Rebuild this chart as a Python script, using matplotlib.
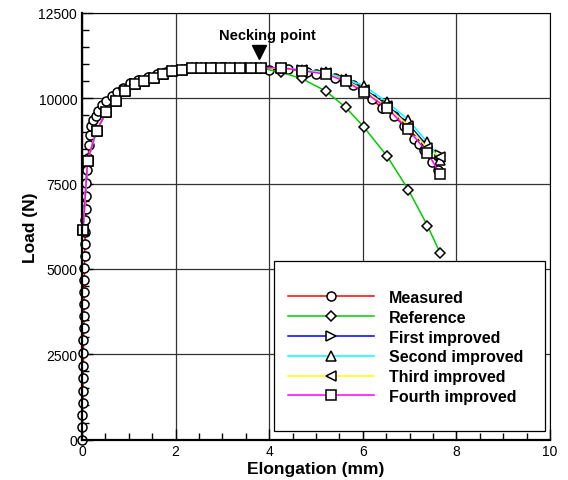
import numpy as np
import matplotlib
matplotlib.use("Agg")
import matplotlib.pyplot as plt
from matplotlib.patches import Rectangle
from matplotlib.ticker import MultipleLocator

plt.rcParams['font.family'] = ['Liberation Sans', 'DejaVu Sans']

#--- Measured curve (circles) ---
x_meas = [0.00, 0.01, 0.01, 0.02, 0.02, 0.02, 0.03, 0.03, 0.03, 0.04, 0.04, 0.04,
          0.05, 0.05, 0.05, 0.06, 0.06, 0.07, 0.07, 0.08, 0.08, 0.09, 0.11, 0.13,
          0.15, 0.17, 0.19, 0.24, 0.29, 0.35, 0.42, 0.52, 0.63, 0.74, 0.88, 1.02,
          1.20, 1.40, 1.60, 1.80, 2.00, 2.20, 2.40, 2.60, 2.80, 3.00, 3.20, 3.40,
          3.60, 3.80, 4.00, 4.40, 4.80, 5.00, 5.40, 5.80, 6.19, 6.40, 6.66, 6.87,
          7.09, 7.19, 7.30, 7.47, 7.60]
y_meas = [0, 380, 720, 1070, 1430, 1800, 2160, 2540, 2920, 3260, 3610, 3970,
          4320, 4670, 5020, 5370, 5720, 6070, 6420, 6770, 7140, 7520, 7900, 8250,
          8620, 8920, 9190, 9350, 9490, 9640, 9790, 9930, 10080, 10180, 10300, 10440,
          10530, 10620, 10700, 10770, 10820, 10860, 10890, 10900, 10910, 10910, 10900, 10900,
          10890, 10880, 10830, 10850, 10770, 10720, 10600, 10380, 9980, 9720, 9490, 9200,
          8810, 8650, 8480, 8130, 7900]

#--- FE curves, common elongation values ---
x_fe = [0.02, 0.12, 0.31, 0.52, 0.72, 0.91, 1.13, 1.33, 1.53, 1.73, 1.93, 2.13,
        2.34, 2.55, 2.76, 2.96, 3.16, 3.38, 3.61, 3.82, 4.25, 4.69, 5.21, 5.63,
        6.02, 6.52, 6.97, 7.38, 7.65]
y_common = [6140, 8175, 9055, 9590, 9930, 10200, 10420, 10500, 10600, 10700, 10800, 10830,
            10880, 10890, 10890, 10890, 10890, 10890, 10890, 10890]
y_ref = y_common + [10760, 10580, 10210, 9740, 9160, 8300, 7325, 6270, 5470]
y_first = y_common + [10880, 10830, 10740, 10540, 10280, 9800, 9250, 8600, 8330]
y_second = y_common + [10890, 10840, 10760, 10570, 10370, 9885, 9370, 8710, 8200]
y_third = y_common + [10880, 10820, 10730, 10520, 10250, 9760, 9200, 8530, 8270]
y_fourth = y_common + [10900, 10810, 10710, 10500, 10190, 9710, 9090, 8410, 7780]

#--- Figure ---
fig = plt.figure(figsize=(5.68, 4.81), dpi=100)
ax = fig.add_axes([0.1444, 0.084, 0.824, 0.887])

mk = dict(markerfacecolor='white', markeredgecolor='black', markeredgewidth=1.1, lw=1.1,
          clip_on=False)
ax.plot(x_meas, y_meas, color='red', marker='o', ms=6.5, label='Measured', zorder=3, **mk)
ax.plot(x_fe, y_ref, color='#00cc00', marker='D', ms=5.5, label='Reference', zorder=3, **mk)
ax.plot(x_fe, y_first, color='blue', marker='>', ms=7.5, label='First improved', zorder=3, **mk)
ax.plot(x_fe, y_second, color='cyan', marker='^', ms=7.5, label='Second improved', zorder=3, **mk)
ax.plot(x_fe, y_third, color='yellow', marker='<', ms=7.5, label='Third improved', zorder=3, **mk)
ax.plot(x_fe, y_fourth, color='magenta', marker='s', ms=7.3, label='Fourth improved', zorder=3, **mk)

# Necking point
ax.plot([3.79], [11350], marker='v', color='black', ms=10, zorder=5)
ax.text(3.95, 11850, 'Necking point', ha='center', va='center', fontsize=10.5, fontweight='bold')

#--- Axes ---
ax.set_xlim(0, 10)
ax.set_ylim(0, 12500)
ax.xaxis.set_major_locator(MultipleLocator(2))
ax.xaxis.set_minor_locator(MultipleLocator(0.5))
ax.yaxis.set_major_locator(MultipleLocator(2500))
ax.yaxis.set_minor_locator(MultipleLocator(500))
ax.tick_params(which='major', direction='in', length=8, width=1, labelsize=10, top=False, right=False)
ax.tick_params(which='minor', direction='in', length=5, width=1, top=False, right=False)
ax.grid(True, which='major', color='#333333', lw=0.9, zorder=0)
ax.set_axisbelow(True)
for s in ['left', 'bottom']:
    ax.spines[s].set_linewidth(1.6)
    ax.spines[s].set_zorder(6)
for s in ['top', 'right']:
    ax.spines[s].set_linewidth(0.8)

ax.set_xlabel('Elongation (mm)', fontsize=12.5, fontweight='bold', labelpad=2)
ax.set_ylabel('Load (N)', fontsize=12.5, fontweight='bold', labelpad=0)

#--- Legend ---
ax.add_patch(Rectangle((0.41, 0.02), 0.579, 0.399, transform=ax.transAxes,
                       facecolor='white', edgecolor='black', lw=0.9, zorder=4))
leg = ax.legend(loc='center', bbox_to_anchor=(0.691, 0.217), frameon=False,
                handlelength=5.4, handletextpad=0.9, labelspacing=0.3,
                prop={'weight': 'bold', 'size': 11.5})
leg.set_zorder(5)

fig.savefig('out.png', dpi=100)
